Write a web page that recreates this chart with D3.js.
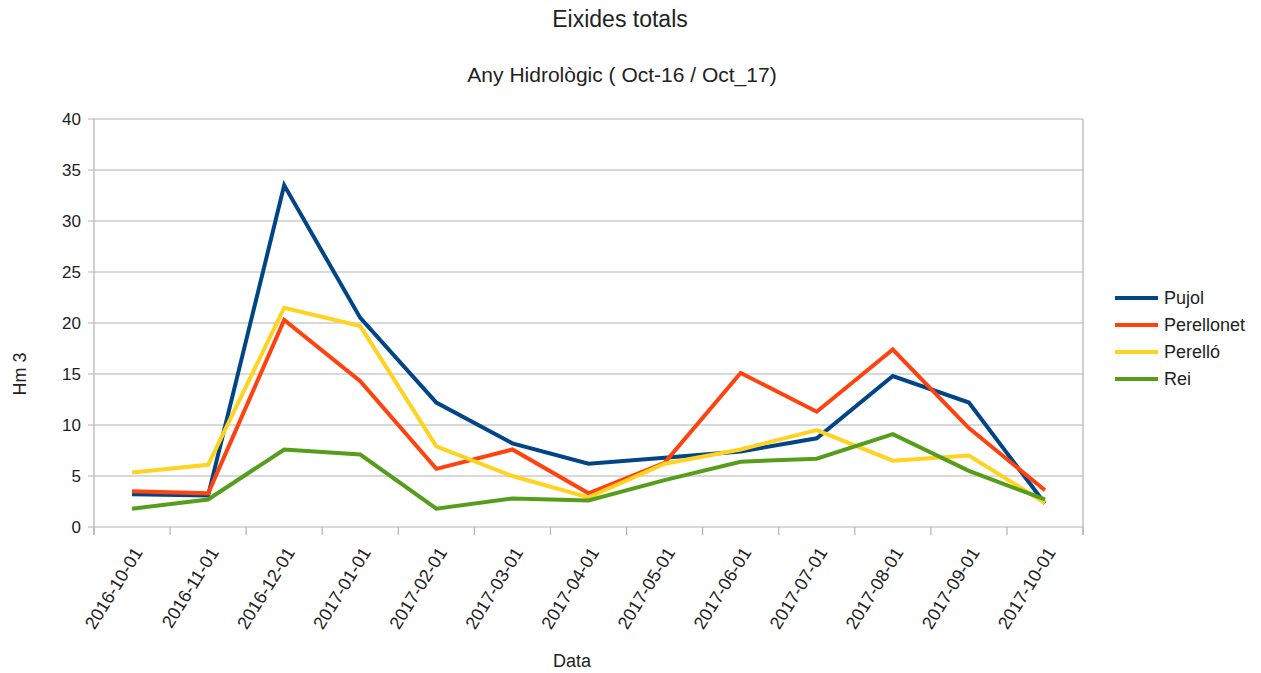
<!DOCTYPE html>
<html><head><meta charset="utf-8">
<script src="https://cdn.jsdelivr.net/npm/d3@7"></script>
<style>body{margin:0;background:#fff}svg{display:block}text{font-family:"Liberation Sans",Arial,sans-serif;fill:#222}</style>
</head><body><svg id="c" width="1261" height="673"></svg>
<script>
const categories = ["2016-10-01","2016-11-01","2016-12-01","2017-01-01","2017-02-01","2017-03-01","2017-04-01","2017-05-01","2017-06-01","2017-07-01","2017-08-01","2017-09-01","2017-10-01"];
const pujol      = [3.2, 3.1, 33.5, 20.5, 12.2, 8.2, 6.2, 6.8, 7.4, 8.7, 14.8, 12.2, 2.3];
const perellonet = [3.5, 3.3, 20.3, 14.3, 5.7, 7.6, 3.3, 6.3, 15.1, 11.3, 17.4, 9.7, 3.6];
const perello    = [5.35, 6.1, 21.5, 19.7, 7.9, 5.0, 2.9, 6.2, 7.6, 9.5, 6.5, 7.0, 2.35];
const rei        = [1.8, 2.7, 7.6, 7.1, 1.8, 2.8, 2.6, 4.6, 6.4, 6.7, 9.1, 5.5, 2.7];
const seriesNames = ["Pujol","Perellonet","Perelló","Rei"];
const seriesColors = ["#004586","#ff420e","#ffd320","#579d1c"];
const yTicks = [0,5,10,15,20,25,30,35,40];
const series = [pujol, perellonet, perello, rei];

const svg = d3.select("#c");
const L = 94, R = 1083, T = 119, B = 527;
const x = d3.scaleBand().domain(categories).range([L, R]).padding(0);
const y = d3.scaleLinear().domain([0, 40]).range([B, T]);

// gridlines
svg.append("g").selectAll("line").data(yTicks).join("line")
  .attr("x1", L-6).attr("x2", R).attr("y1", d=>y(d)).attr("y2", d=>y(d))
  .attr("stroke", "#b3b3b3").attr("stroke-width", 1.2);
// y-axis line & right border
svg.append("line").attr("x1", L).attr("x2", L).attr("y1", T).attr("y2", B+8).attr("stroke", "#b3b3b3").attr("stroke-width", 1.2);
svg.append("line").attr("x1", R).attr("x2", R).attr("y1", T).attr("y2", B+8).attr("stroke", "#b3b3b3").attr("stroke-width", 1.2);
// x ticks at band boundaries
const bounds = categories.map(c => x(c)).concat([R]);
svg.append("g").selectAll("line").data(bounds).join("line")
  .attr("x1", d=>d).attr("x2", d=>d).attr("y1", B).attr("y2", B+8)
  .attr("stroke", "#b3b3b3").attr("stroke-width", 1.2);

// y tick labels
svg.append("g").selectAll("text").data(yTicks).join("text")
  .attr("x", L-13).attr("y", d=>y(d)).attr("dy", "0.35em")
  .attr("text-anchor", "end").style("font-size", "17px").text(d=>d);

// x tick labels rotated
svg.append("g").selectAll("text").data(categories).join("text")
  .attr("transform", d => `translate(${x(d)+x.bandwidth()/2+6},${B+22}) rotate(-58)`)
  .attr("text-anchor", "end").attr("dy", "0.35em").style("font-size", "18px").text(d=>d);

// lines
const line = d3.line().x((d,i)=>x(categories[i])+x.bandwidth()/2).y(d=>y(d));
series.forEach((s, k) => {
  svg.append("path").datum(s).attr("d", line).attr("fill", "none")
    .attr("stroke", seriesColors[k]).attr("stroke-width", 4).attr("stroke-linejoin", "miter");
});

// titles
svg.append("text").attr("x", 620).attr("y", 19).attr("dy", "0.35em").attr("text-anchor", "middle").style("font-size", "23px").text("Eixides totals");
svg.append("text").attr("x", 622).attr("y", 75).attr("dy", "0.35em").attr("text-anchor", "middle").style("font-size", "21px").text("Any Hidrològic ( Oct-16 / Oct_17)");
svg.append("text").attr("transform", "translate(20,374) rotate(-90)").attr("dy", "0.35em").attr("text-anchor", "middle").style("font-size", "18px").text("Hm 3");
svg.append("text").attr("x", 572).attr("y", 661).attr("dy", "0.35em").attr("text-anchor", "middle").style("font-size", "18px").text("Data");

// legend
const lg = svg.append("g").selectAll("g").data(seriesNames).join("g")
  .attr("transform", (d,i)=>`translate(1115,${298 + i*27})`);
lg.append("line").attr("x1", 0).attr("x2", 43).attr("stroke", (d,i)=>seriesColors[i]).attr("stroke-width", 4);
lg.append("text").attr("x", 49).attr("dy", "0.35em").style("font-size", "18px").text(d=>d);
</script></body></html>
